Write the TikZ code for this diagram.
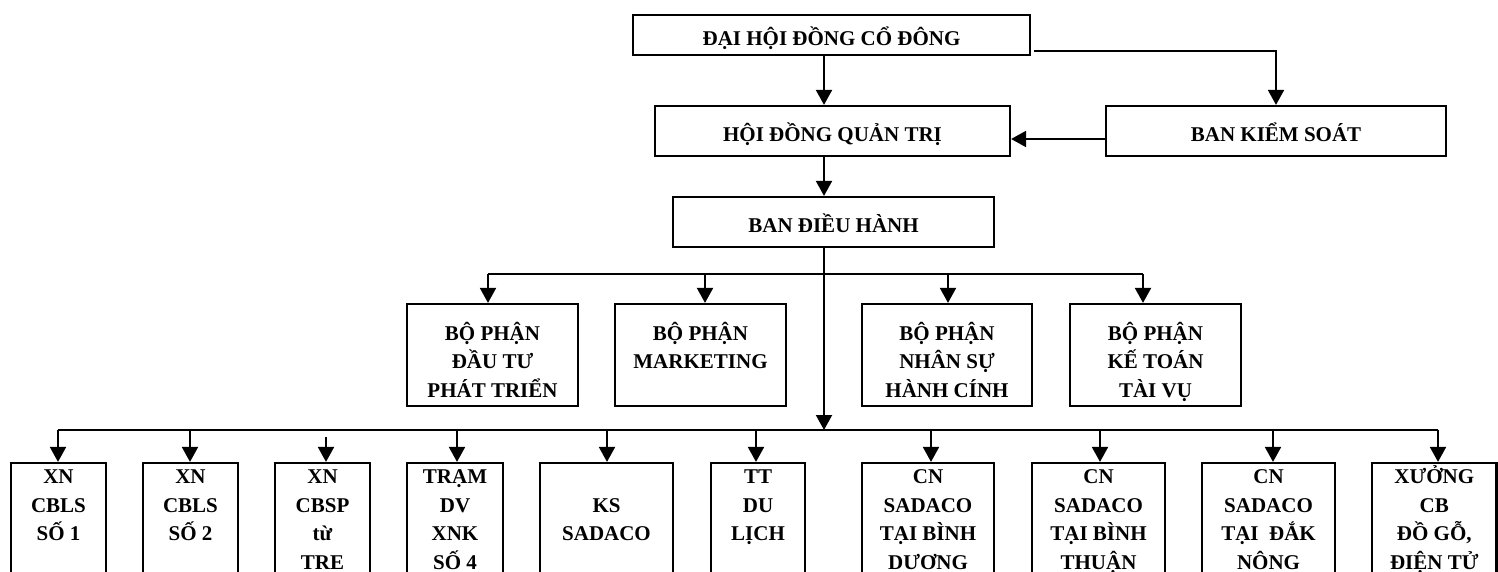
\documentclass[tikz,border=0pt]{standalone}
\usepackage{fontspec}
\setmainfont{Liberation Serif}
\usetikzlibrary{arrows.meta}
\newcommand{\mlines}[1]{\begin{tabular}[t]{@{}c@{}}#1\end{tabular}}
\begin{document}
\begin{tikzpicture}[x=1pt,y=-1pt,
  box/.style={draw, line width=2.2pt, inner sep=0pt, rectangle},
  tbox/.style={box, font=\fontsize{21}{28.5}\selectfont\bfseries, text height=21pt, text depth=0pt},
  lbl/.style={inner sep=0pt, anchor=base, font=\fontsize{21}{28.5}\selectfont\bfseries},
  con/.style={line width=2pt},
  arr/.style={con, -{Triangle[length=15pt,width=16pt]}},
]
\useasboundingbox (0,0) rectangle (1498,572);
\clip (0,0) rectangle (1498,572);
\fill[white] (0,0) rectangle (1498,572);

% top level
\node[tbox, minimum width=397pt, minimum height=40pt] (dh) at (831.5,35) {ĐẠI HỘI ĐỒNG CỔ ĐÔNG};
\node[tbox, minimum width=355pt, minimum height=50pt] (hq) at (832.5,131) {HỘI ĐỒNG QUẢN TRỊ};
\node[tbox, minimum width=340pt, minimum height=50pt] (bks) at (1276,131) {BAN KIỂM SOÁT};
\node[tbox, minimum width=321pt, minimum height=50pt] (bdh) at (833.5,222) {BAN ĐIỀU HÀNH};

% middle level
\node[box, minimum width=171pt, minimum height=102pt] (m1) at (492.5,355) {};
\node[box, minimum width=171pt, minimum height=102pt] (m2) at (700.5,355) {};
\node[box, minimum width=170pt, minimum height=102pt] (m3) at (947,355) {};
\node[box, minimum width=171pt, minimum height=102pt] (m4) at (1155.5,355) {};
\node[lbl] (m1t) at (492.5,340) {\mlines{BỘ PHẬN\\ĐẦU TƯ\\PHÁT TRIỂN}};
\node[lbl] (m2t) at (700.5,340) {\mlines{BỘ PHẬN\\MARKETING}};
\node[lbl] (m3t) at (947,340) {\mlines{BỘ PHẬN\\NHÂN SỰ\\HÀNH CÍNH}};
\node[lbl] (m4t) at (1155.5,340) {\mlines{BỘ PHẬN\\KẾ TOÁN\\TÀI VỤ}};

% bottom level
\node[box, minimum width=95pt, minimum height=137pt] (b1) at (58.5,531.5) {};
\node[box, minimum width=95pt, minimum height=137pt] (b2) at (190.5,531.5) {};
\node[box, minimum width=95pt, minimum height=137pt] (b3) at (322.5,531.5) {};
\node[box, minimum width=96pt, minimum height=137pt] (b4) at (455,531.5) {};
\node[box, minimum width=133pt, minimum height=137pt] (b5) at (606.5,531.5) {};
\node[box, minimum width=94pt, minimum height=137pt] (b6) at (758,531.5) {};
\node[box, minimum width=132pt, minimum height=137pt] (b7) at (928,531.5) {};
\node[box, minimum width=133pt, minimum height=137pt] (b8) at (1098.5,531.5) {};
\node[box, minimum width=133pt, minimum height=137pt] (b9) at (1268.5,531.5) {};
\node[box, minimum width=124.5pt, minimum height=137pt] (b10) at (1434.25,531.5) {};
\node[lbl] (b1t) at (58.5,483.5) {\mlines{XN\\CBLS\\SỐ 1}};
\node[lbl] (b2t) at (190.5,483.5) {\mlines{XN\\CBLS\\SỐ 2}};
\node[lbl] (b3t) at (322.5,483.5) {\mlines{XN\\CBSP\\từ\\TRE}};
\node[lbl] (b4t) at (455,483.5) {\mlines{TRẠM\\DV\\XNK\\SỐ 4}};
\node[lbl] (b5t) at (606.5,512) {\mlines{KS\\SADACO}};
\node[lbl] (b6t) at (758,483.5) {\mlines{TT\\DU\\LỊCH}};
\node[lbl] (b7t) at (928,483.5) {\mlines{CN\\SADACO\\TẠI BÌNH\\DƯƠNG}};
\node[lbl] (b8t) at (1098.5,483.5) {\mlines{CN\\SADACO\\TẠI BÌNH\\THUẬN}};
\node[lbl] (b9t) at (1268.5,483.5) {\mlines{CN\\SADACO\\TẠI~~ĐẮK\\NÔNG}};
\node[lbl] (b10t) at (1434.25,483.5) {\mlines{XƯỞNG\\CB\\ĐỒ GỖ,\\ĐIỆN TỬ}};

% helper coordinates
\coordinate (tx) at (824,0);
\coordinate (y51) at (0,51);
\coordinate (y139) at (0,139);
\coordinate (mbus) at (0,274);
\coordinate (bus) at (0,430);
\coordinate (bus3) at (0,437);
\coordinate (ma1) at (488,0);
\coordinate (ma2) at (705,0);
\coordinate (ma3) at (948,0);
\coordinate (ma4) at (1143,0);
\coordinate (ba1) at (58,0);
\coordinate (ba2) at (190,0);
\coordinate (ba3) at (326,0);
\coordinate (ba4) at (457,0);
\coordinate (ba5) at (607,0);
\coordinate (ba6) at (756,0);
\coordinate (ba7) at (931,0);
\coordinate (ba8) at (1100,0);
\coordinate (ba9) at (1273,0);
\coordinate (ba10) at (1438,0);

% top connectors
\draw[arr] (tx |- dh.south) -- (tx |- hq.north);
\draw[arr] (tx |- hq.south) -- (tx |- bdh.north);
\draw[arr, shorten <=3pt] (dh.east |- y51) -| (bks.north);
\draw[arr] (bks.west |- y139) -- (hq.east |- y139);
\draw[arr] (tx |- bdh.south) -- (tx |- bus);

% middle bus
\draw[con] (ma1 |- mbus) -- (ma4 |- mbus);
\foreach \i in {1,...,4} {
  \draw[arr] (ma\i |- mbus) -- (ma\i |- m\i.north);
}

% bottom bus
\draw[con] (ba1 |- bus) -- (ba10 |- bus);
\foreach \i in {1,2,4,5,6,7,8,9,10} {
  \draw[arr] (ba\i |- bus) -- (ba\i |- b\i.north);
}
\draw[arr] (ba3 |- bus3) -- (ba3 |- b3.north);
\end{tikzpicture}
\end{document}
